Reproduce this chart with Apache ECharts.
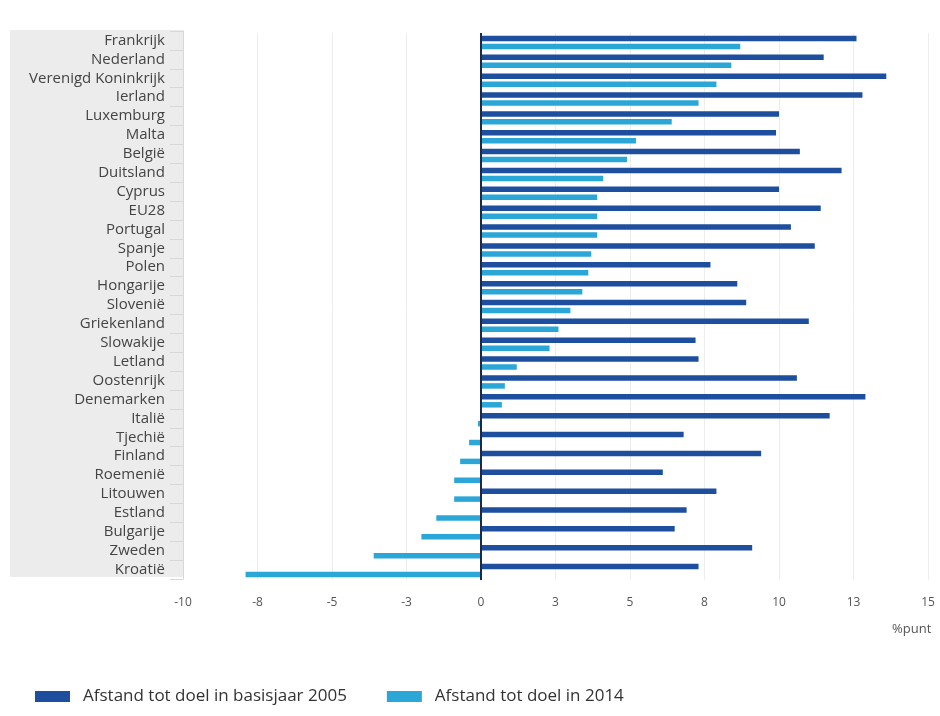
<!DOCTYPE html>
<html>
<head>
<meta charset="utf-8">
<script src="https://cdn.jsdelivr.net/npm/echarts@6/dist/echarts.min.js"></script>
<style>html,body{margin:0;padding:0;background:#fff}#c{width:940px;height:716px}</style>
</head>
<body>
<div id="c"></div>
<script>
var categories = ['Frankrijk','Nederland','Verenigd Koninkrijk','Ierland','Luxemburg','Malta','België','Duitsland','Cyprus','EU28','Portugal','Spanje','Polen','Hongarije','Slovenië','Griekenland','Slowakije','Letland','Oostenrijk','Denemarken','Italië','Tjechië','Finland','Roemenië','Litouwen','Estland','Bulgarije','Zweden','Kroatië'];
var gap2005 = [12.6,11.5,13.6,12.8,10.0,9.9,10.7,12.1,10.0,11.4,10.4,11.2,7.7,8.6,8.9,11.0,7.2,7.3,10.6,12.9,11.7,6.8,9.4,6.1,7.9,6.9,6.5,9.1,7.3];
var gap2014 = [8.7,8.4,7.9,7.3,6.4,5.2,4.9,4.1,3.9,3.9,3.9,3.7,3.6,3.4,3.0,2.6,2.3,1.2,0.8,0.7,-0.1,-0.4,-0.7,-0.9,-0.9,-1.5,-2.0,-3.6,-7.9];
var seriesNames = ['Afstand tot doel in basisjaar 2005','Afstand tot doel in 2014'];
var axisUnit = '%punt';

var chart = echarts.init(document.getElementById('c'), null, {renderer:'canvas'});
var font = '"Open Sans", sans-serif';
chart.setOption({
  animation: false,
  backgroundColor: '#fff',
  graphic: [
    {type:'rect', left:10, top:30, z:-10, shape:{width:173, height:547}, style:{fill:'#ececec'}},
    {type:'text', left:892, top:623, style:{text:axisUnit, fill:'#555', font:'13px ' + font}}
  ],
  grid: [
    {left:183, right:12, top:33, bottom:136, containLabel:false},
    {left:183, right:12, top:31, bottom:137, containLabel:false}
  ],
  legend: {
    left: 30, bottom: 6, itemWidth: 35, itemHeight: 11, itemGap: 40,
    icon: 'rect',
    textStyle: {fontFamily: font, fontSize: 17, color: '#333', padding:[0,0,0,8]},
    data: seriesNames
  },
  xAxis: [
    {
      type: 'value', min: -10, max: 15, interval: 2.5, gridIndex: 0,
      axisLine: {show:false}, axisTick: {show:false},
      splitLine: {show:true, lineStyle:{color:'#ededed', width:1}},
      axisLabel: {
        margin: 17, color: '#555', fontFamily: font, fontSize: 12,
        formatter: function(v){ var r = Math.sign(v)*Math.round(Math.abs(v)); return String(r); }
      }
    },
    {type: 'value', min: -10, max: 15, gridIndex: 1, show: false}
  ],
  yAxis: [
    {type: 'category', data: categories, inverse: true, gridIndex: 0, show: false},
    {
      type: 'category', data: categories, inverse: true, gridIndex: 1,
      axisLine: {show:true, onZero:false, lineStyle:{color:'#d8d8d8'}},
      axisTick: {show:true, length:13, lineStyle:{color:'#d8d8d8'}},
      axisLabel: {interval: 0, margin: 18, color: '#444', fontFamily: font, fontSize: 15}
    }
  ],
  series: [
    {
      name: seriesNames[0], type: 'bar', data: gap2005,
      xAxisIndex: 0, yAxisIndex: 0,
      barWidth: 5.5, barGap: '45%',
      itemStyle: {color: '#1d4f9e'},
      markLine: {
        silent: true, symbol: 'none',
        label: {show:false},
        lineStyle: {color:'#1b2a48', width:2, type:'solid'},
        data: [{xAxis: 0}]
      }
    },
    {
      name: seriesNames[1], type: 'bar', data: gap2014,
      xAxisIndex: 0, yAxisIndex: 0,
      barWidth: 5.5, barGap: '45%',
      itemStyle: {color: '#2aa7d7'}
    }
  ]
});
</script>
</body>
</html>
